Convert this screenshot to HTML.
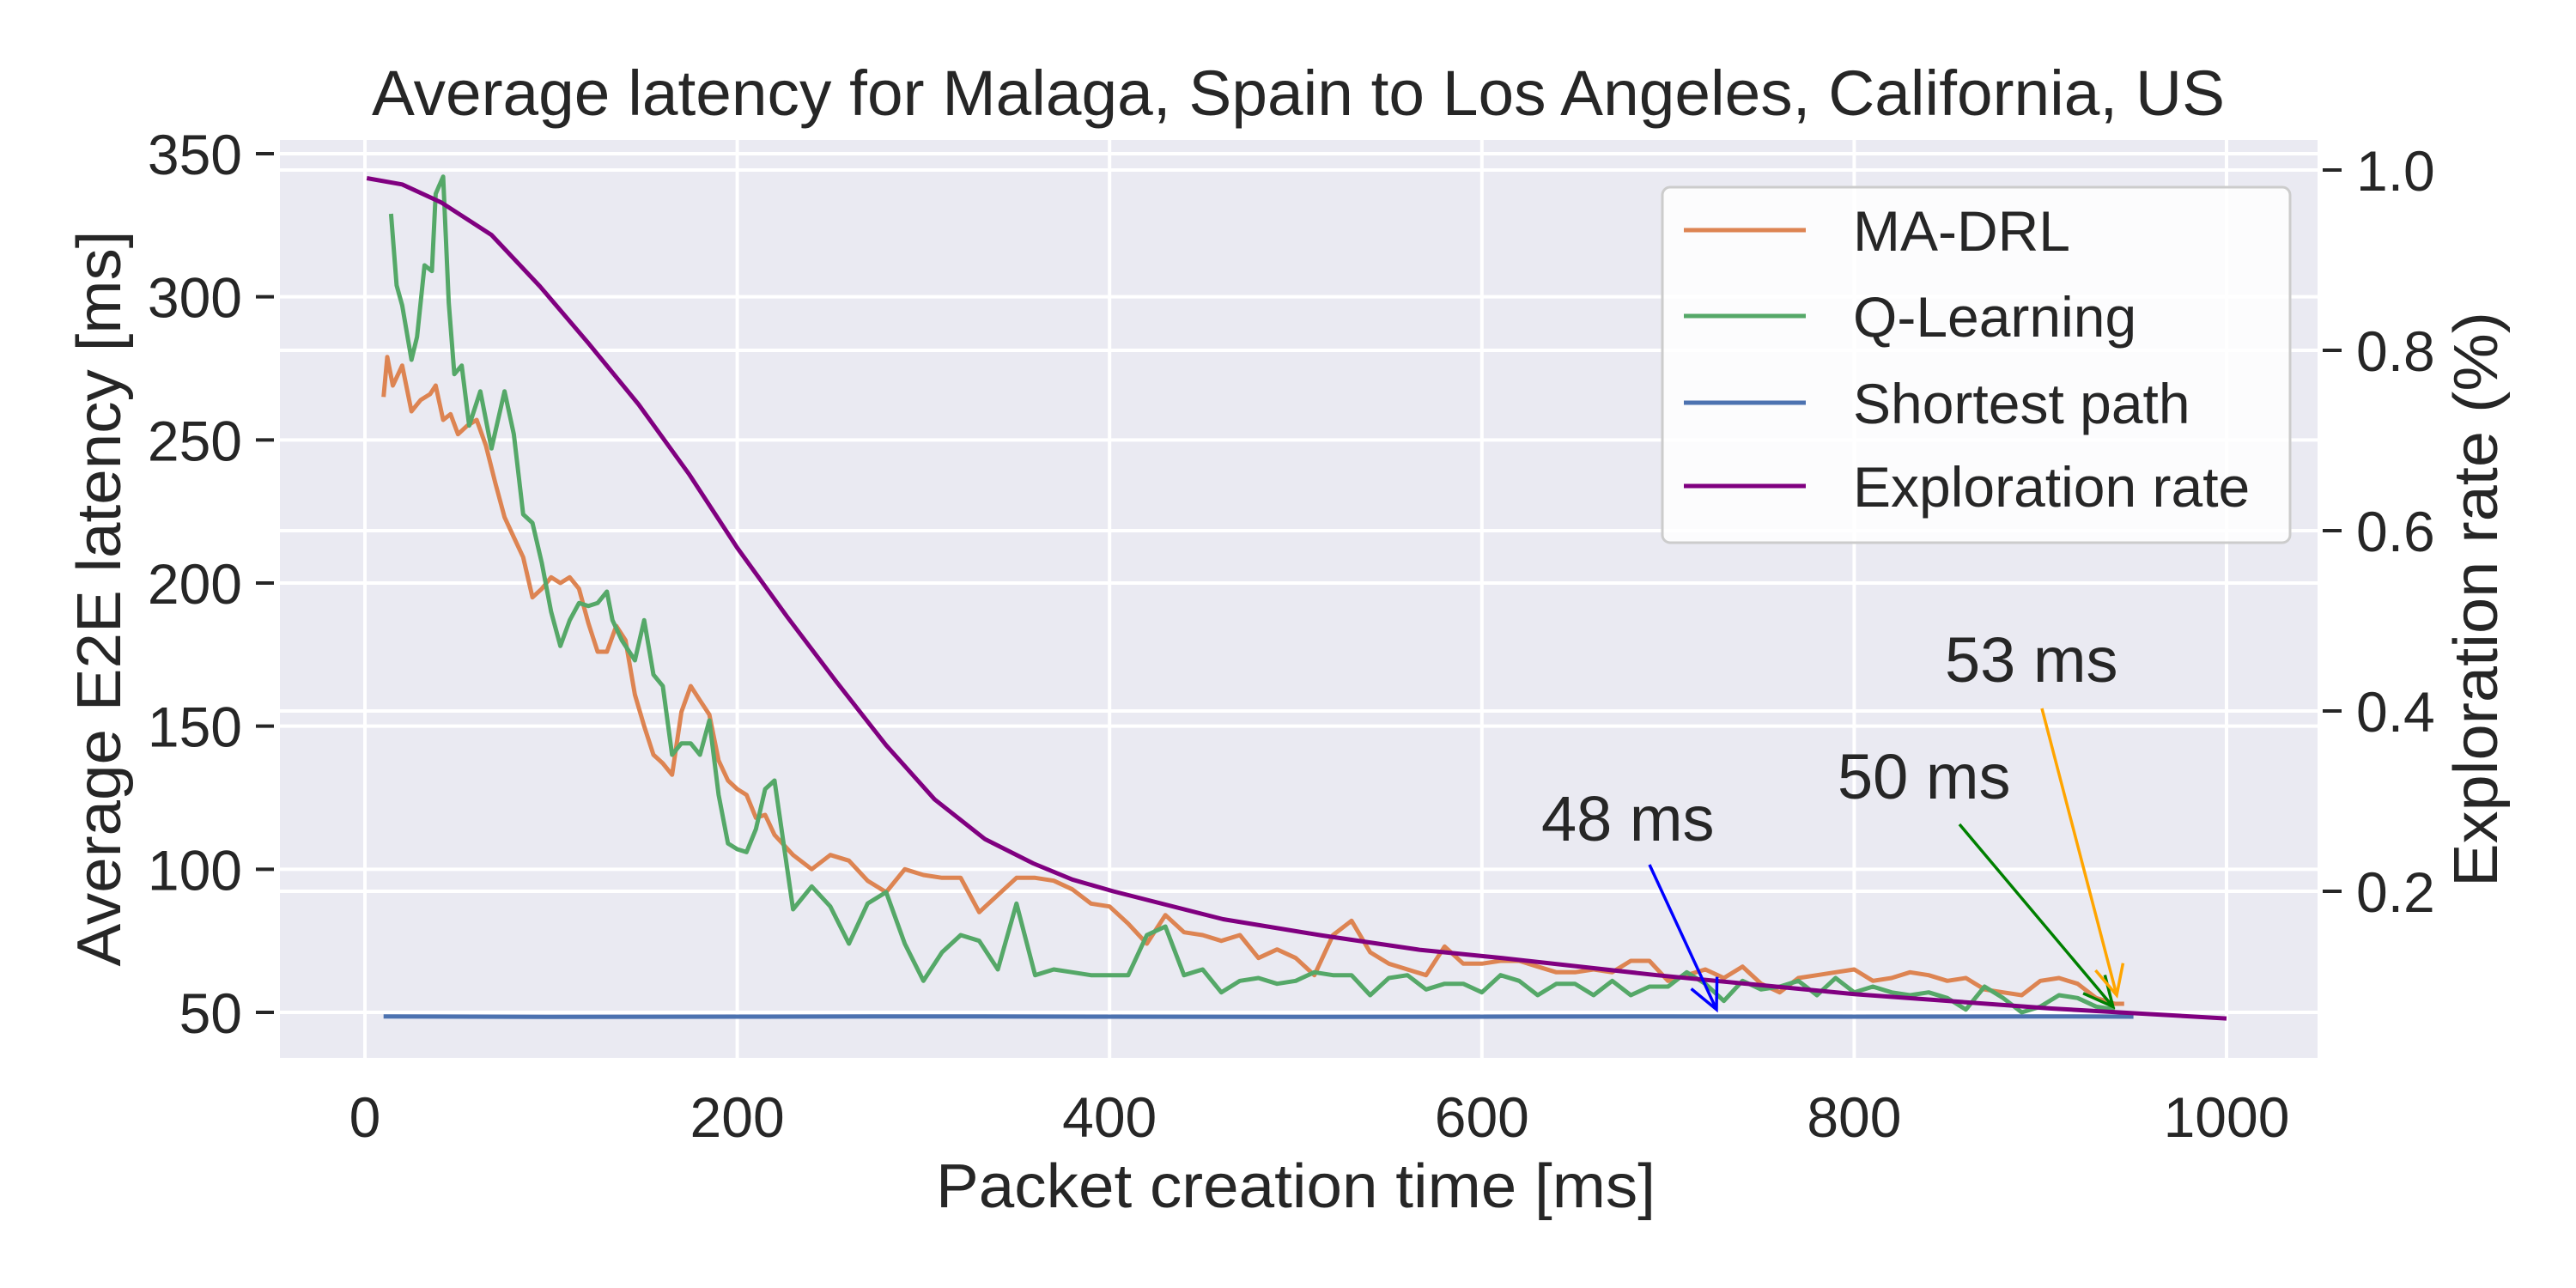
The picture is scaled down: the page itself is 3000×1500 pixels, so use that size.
<!DOCTYPE html>
<html><head><meta charset="utf-8"><style>
html,body{margin:0;padding:0;background:#fff}
svg{display:block}
text{font-family:"Liberation Sans",Arial,sans-serif;fill:#262626}
</style></head><body>
<svg id="chart" width="3000" height="1500" viewBox="0 0 3000 1500" xmlns="http://www.w3.org/2000/svg">
<rect x="326" y="163" width="2373" height="1069" fill="#eaeaf2"/>
<g id="grid"></g>
<g id="series"></g>
<g id="annotations"></g>
<g id="axes"></g>
<text x="1512" y="134" font-size="74" text-anchor="middle" textLength="2158" lengthAdjust="spacingAndGlyphs">Average latency for Malaga, Spain to Los Angeles, California, US</text>
<text x="1509" y="1406" font-size="72" text-anchor="middle" textLength="838" lengthAdjust="spacingAndGlyphs">Packet creation time [ms]</text>
<text transform="translate(140,697) rotate(-90)" font-size="72" text-anchor="middle" textLength="857" lengthAdjust="spacingAndGlyphs">Average E2E latency [ms]</text>
<text transform="translate(2908,698) rotate(-90)" font-size="72" text-anchor="middle" textLength="670" lengthAdjust="spacingAndGlyphs">Exploration rate (%)</text>
<g id="legend"></g>
</svg>
<script>
const xTicks = [0, 200, 400, 600, 800, 1000];
const yTicks = [50, 100, 150, 200, 250, 300, 350];
const y2Ticks = [0.2, 0.4, 0.6, 0.8, 1.0];
const y2TickLabels = ["0.2", "0.4", "0.6", "0.8", "1.0"];

const madrlX = [10,12,15,20,25,30,35,38,42,46,50,55,60,65,70,75,80,85,90,95,100,105,110,115,120,125,130,135,140,145,150,155,160,165,170,175,180,185,190,195,200,205,210,215,220,230,240,250,260,270,280,290,300,310,320,330,340,350,360,370,380,390,400,410,420,430,440,450,460,470,480,490,500,510,520,530,540,550,560,570,580,590,600,610,620,630,640,650,660,670,680,690,700,710,720,730,740,750,760,770,780,790,800,810,820,830,840,850,860,870,880,890,900,910,920,930,940,945];
const madrlY = [265,279,269,276,260,264,266,269,257,259,252,255,257,248,235,223,216,209,195,198,202,200,202,198,186,176,176,185,180,161,150,140,137,133,155,164,159,154,138,131,128,126,118,119,112,105,100,105,103,96,92,100,98,97,97,85,91,97,97,96,93,88,87,81,74,84,78,77,75,77,69,72,69,63,77,82,71,67,65,63,73,67,67,68,68,66,64,64,65,64,68,68,61,63,65,62,66,60,57,62,63,64,65,61,62,64,63,61,62,58,57,56,61,62,60,55,53,53];

const qlX = [14,17,20,25,28,32,36,38,42,45,48,52,56,62,68,75,80,85,90,95,100,105,110,115,120,125,130,133,138,145,150,155,160,165,170,175,180,185,190,195,200,205,210,215,220,230,240,250,260,270,280,290,300,310,320,330,340,350,360,370,380,390,400,410,420,430,440,450,460,470,480,490,500,510,520,530,540,550,560,570,580,590,600,610,620,630,640,650,660,670,680,690,700,710,720,730,740,750,760,770,780,790,800,810,820,830,840,850,860,870,880,890,900,910,920,930,940];
const qlY = [329,304,297,278,286,311,309,336,342,298,273,276,255,267,247,267,252,224,221,207,190,178,187,193,192,193,197,187,180,173,187,168,164,140,144,144,140,152,126,109,107,106,114,128,131,86,94,87,74,88,92,74,61,71,77,75,65,88,63,65,64,63,63,63,77,80,63,65,57,61,62,60,61,64,63,63,56,62,63,58,60,60,57,63,61,56,60,60,56,61,56,59,59,64,60,54,61,58,59,61,56,62,57,59,57,56,57,55,51,59,55,50,52,56,55,52,51];

const spX = [10,100,200,300,400,500,600,700,800,900,950];
const spY = [48.6,48.4,48.5,48.6,48.5,48.4,48.5,48.6,48.5,48.6,48.5];

const expX = [1,20,41,68,94,120,147,174,200,227,253,280,306,333,359,380,402,461,514,567,611,694,800,906,1000];
const expY = [0.991,0.984,0.964,0.928,0.871,0.808,0.740,0.663,0.581,0.504,0.433,0.362,0.302,0.258,0.231,0.213,0.200,0.169,0.151,0.135,0.126,0.107,0.086,0.070,0.059];

const legendLabels = ["MA-DRL", "Q-Learning", "Shortest path", "Exploration rate"];
const legendColors = ["#dd8452", "#55a868", "#4c72b0", "#800080"];

const annLabels = ["48 ms", "50 ms", "53 ms"];
const annColors = ["#0000ff", "#008000", "#ffa500"];
const annTipX = [726, 939, 941];
const annTipMs = [51, 52, 56];

const NS = "http://www.w3.org/2000/svg";
const X = v => 425 + v * 2.168;
const Y = v => 179 + (350 - v) * 3.3333;
const Y2 = v => 198 + (1 - v) * 1050;
function mk(tag, attrs, parent) {
  const e = document.createElementNS(NS, tag);
  for (const k in attrs) e.setAttribute(k, attrs[k]);
  parent.appendChild(e);
  return e;
}
const grid = document.getElementById('grid');
const axes = document.getElementById('axes');
xTicks.forEach(t => {
  const l = mk('line', {x1: X(t), x2: X(t), y1: 163, y2: 1232, stroke: '#fff', 'stroke-width': 4}, grid);
  
  
  const tx = mk('text', {x: X(t), y: 1324, 'font-size': 66, 'text-anchor': 'middle'}, axes);
  tx.textContent = t;
  
  
});
yTicks.forEach(t => {
  const l = mk('line', {x1: 326, x2: 2699, y1: Y(t), y2: Y(t), stroke: '#fff', 'stroke-width': 4}, grid);
  
  
  const m = mk('line', {x1: 298, x2: 319, y1: Y(t), y2: Y(t), stroke: '#262626', 'stroke-width': 4}, axes);
  
  
  const tx = mk('text', {x: 282, y: Y(t) + 24, 'font-size': 66, 'text-anchor': 'end'}, axes);
  tx.textContent = t;
  
  
});
y2Ticks.forEach((t, i) => {
  const l = mk('line', {x1: 326, x2: 2699, y1: Y2(t), y2: Y2(t), stroke: '#fff', 'stroke-width': 4}, grid);
  
  
  const m = mk('line', {x1: 2705, x2: 2727, y1: Y2(t), y2: Y2(t), stroke: '#262626', 'stroke-width': 4}, axes);
  
  
  const tx = mk('text', {x: 2744, y: Y2(t) + 24, 'font-size': 66}, axes);
  tx.textContent = y2TickLabels[i];
  
  
});
const series = document.getElementById('series');
function line(xs, ys, fy, color, name) {
  const d = xs.map((x, i) => (i ? 'L' : 'M') + X(x).toFixed(1) + ' ' + fy(ys[i]).toFixed(1)).join(' ');
  const p = mk('path', {d: d, fill: 'none', stroke: color, 'stroke-width': 5, 'stroke-linejoin': 'round'}, series);
  
  
}
line(spX, spY, Y, '#4c72b0', 'shortest-path-line');
line(madrlX, madrlY, Y, '#dd8452', 'ma-drl-line');
line(qlX, qlY, Y, '#55a868', 'q-learning-line');
line(expX, expY, Y2, '#800080', 'exploration-rate-line');

const ann = document.getElementById('annotations');
const annText = [[1795, 979], [2140, 930], [2265, 794]];
const annStart = [[1921, 1007], [2282, 960], [2378, 825]];
annLabels.forEach((lab, i) => {
  const tx = mk('text', {x: annText[i][0], y: annText[i][1], 'font-size': 74}, ann);
  tx.textContent = lab;
  
  
  const x2 = X(annTipX[i]), y2 = Y(annTipMs[i]);
  const x1 = annStart[i][0], y1 = annStart[i][1];
  const a = Math.atan2(y2 - y1, x2 - x1);
  const h = 38, s = 0.45;
  const d = `M${x1} ${y1} L${x2} ${y2} M${x2 - h * Math.cos(a - s)} ${y2 - h * Math.sin(a - s)} L${x2} ${y2} L${x2 - h * Math.cos(a + s)} ${y2 - h * Math.sin(a + s)}`;
  const p = mk('path', {d: d, fill: 'none', stroke: annColors[i], 'stroke-width': 3.5}, ann);
  
  
});

const lg = document.getElementById('legend');
const box = mk('rect', {x: 1936, y: 218, width: 731, height: 414, rx: 9, fill: '#ffffff', 'fill-opacity': 0.85, stroke: '#cccccc', 'stroke-width': 3}, lg);


const rowsY = [268, 368, 469, 566];
legendLabels.forEach((lab, i) => {
  const l = mk('line', {x1: 1961, x2: 2103, y1: rowsY[i], y2: rowsY[i], stroke: legendColors[i], 'stroke-width': 5}, lg);
  
  
  const t = mk('text', {x: 2158, y: rowsY[i] + 24, 'font-size': 66}, lg);
  t.textContent = lab;
  
  
});
</script>
</body></html>
